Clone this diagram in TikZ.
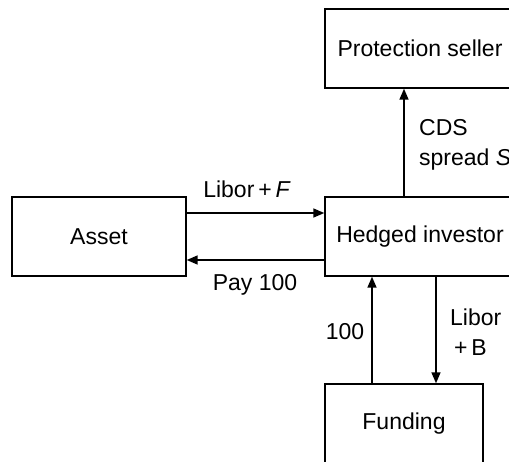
\documentclass[tikz,border=0pt]{standalone}
\usepackage{fontspec}
\setmainfont{Liberation Sans}
\usetikzlibrary{arrows.meta}
\begin{document}
\begin{tikzpicture}[x=1pt,y=-1pt,
  every node/.style={font=\fontsize{23}{30}\selectfont, inner sep=0pt},
  box/.style={draw, line width=1.4pt, minimum height=79pt},
  arr/.style={line width=1.5pt, -{Triangle[length=11pt,width=9pt]}},
  lab/.style={align=left, anchor=west}]
\clip (0,0) rectangle (509,461);
\useasboundingbox (0,0) rectangle (509,461);
\node[box, minimum width=190pt] (prot) at (420,48.5) {Protection seller};
\node[box, minimum width=190pt] (hedged) at (420,236.5) {Hedged investor};
\node[box, minimum width=174pt] (asset) at (99,236.5) {Asset};
\node[box, minimum width=158pt, minimum height=80pt] (fund) at (404,424) {Funding};
\draw[arr] (hedged.north -| 404,0) -- (prot.south -| 404,0);
\draw[arr] (asset.east |- 0,213) -- (hedged.west |- 0,213);
\draw[arr] (hedged.west |- 0,260) -- (asset.east |- 0,260);
\draw[arr] (fund.north -| 372,0) -- (hedged.south -| 372,0);
\draw[arr] (hedged.south -| 436,0) -- (fund.north -| 436,0);
\node (lf) at (247,189) {Libor\,+\,\textit{F}};
\node (p100) at (255,285) {Pay 100};
\node[lab] (cds) at (419,145) {CDS\\spread \textit{S}};
\node (h100) at (345,332) {100};
\node[lab] (lb) at (450,332) {Libor\\\,+\,B};
\end{tikzpicture}
\end{document}
